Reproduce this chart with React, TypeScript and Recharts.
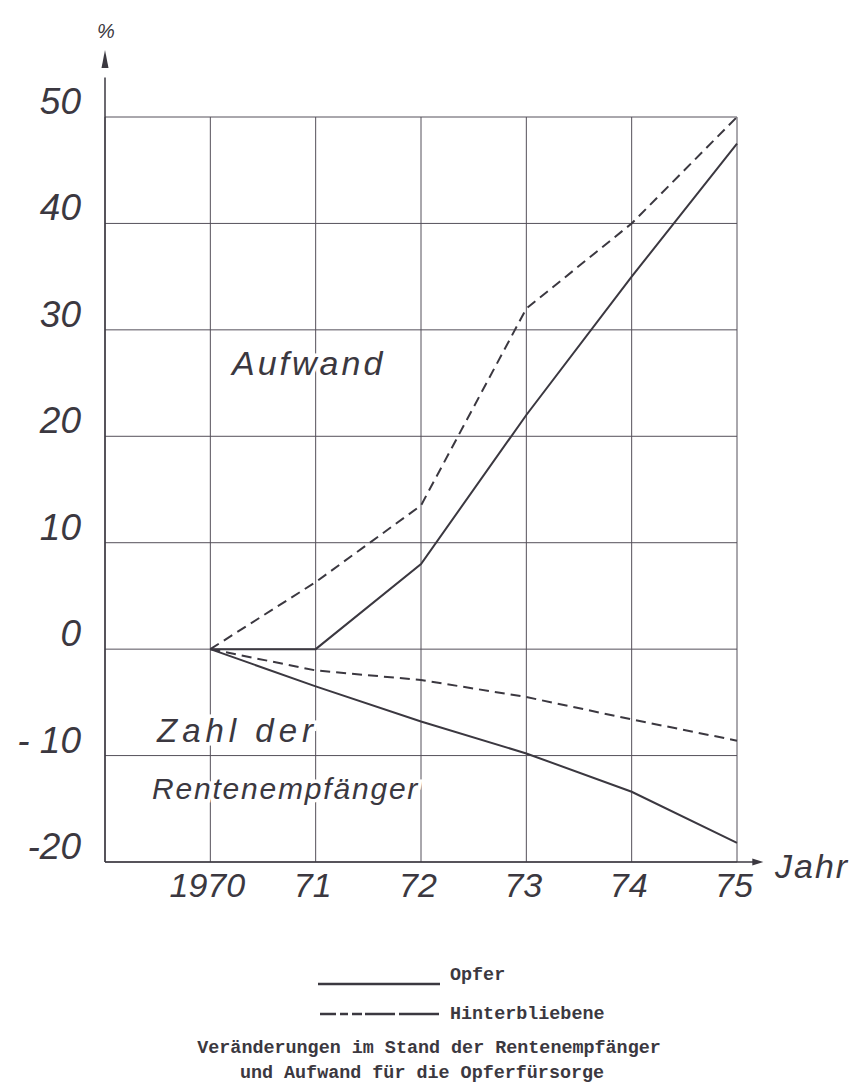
import React from "react"
import {
  LineChart,
  Line,
  XAxis,
  YAxis,
  CartesianGrid,
  ReferenceLine,
  ReferenceDot,
} from "recharts"

// values (change in % against 1970)
const years = [1970, 1971, 1972, 1973, 1974, 1975]
const xTickLabels = ["1970", "71", "72", "73", "74", "75"]
const aufwandOpfer = [0, 0, 8, 22, 35, 47.5]
const aufwandHinterbliebene = [0, 6.3, 13.5, 32, 40, 50]
const zahlOpfer = [0, -3.5, -6.8, -9.8, -13.4, -18.2]
const zahlHinterbliebene = [0, -2, -2.9, -4.5, -6.6, -8.6]
const yTicks = [-20, -10, 0, 10, 20, 30, 40, 50]
const yTickLabels = ["-20", "- 10", "0", "10", "20", "30", "40", "50"]

const data = years.map((year, i) => ({
  year,
  aufwandOpfer: aufwandOpfer[i],
  aufwandHinterbliebene: aufwandHinterbliebene[i],
  zahlOpfer: zahlOpfer[i],
  zahlHinterbliebene: zahlHinterbliebene[i],
}))

const ink = "#3b3840"
const grid = "#55505a"
const hand = "'Liberation Sans', Arial, sans-serif"
const typewriter = "'Liberation Mono', 'DejaVu Sans Mono', monospace"
const dash = "10 6"

const XTick = ({ x, y, payload }: any) => (
  <text
    x={x - 3}
    y={y + 35}
    textAnchor="middle"
    fontSize={34}
    fontStyle="italic"
    fontFamily={hand}
    fill={ink}
  >
    {xTickLabels[years.indexOf(payload.value)]}
  </text>
)

const YTick = ({ x, y, payload }: any) => (
  <text
    x={x - 24}
    y={y - 3}
    textAnchor="end"
    fontSize={37}
    fontStyle="italic"
    fontFamily={hand}
    fill={ink}
  >
    {yTickLabels[yTicks.indexOf(payload.value)]}
  </text>
)

const arrowUp = (p: any) => (
  <path d={`M${p.cx},${p.cy} L${p.cx - 3.5},${p.cy + 18} L${p.cx + 3.5},${p.cy + 18} Z`} fill={ink} />
)
const arrowRight = (p: any) => (
  <path d={`M${p.cx},${p.cy} L${p.cx - 11},${p.cy - 3.5} L${p.cx - 11},${p.cy + 3.5} Z`} fill={ink} />
)

const halo = { stroke: "#fff", strokeWidth: 7, paintOrder: "stroke" as const }

export default function App() {
  return (
    <div style={{ position: "absolute", left: 0, top: 0, width: 852, height: 1089, background: "#fff" }}>
      <LineChart
        width={852}
        height={1089}
        data={data}
        margin={{ top: 117, right: 115, bottom: 187, left: 0 }}
      >
        <CartesianGrid stroke={grid} strokeWidth={1} />
        <XAxis
          dataKey="year"
          type="number"
          domain={[1969, 1975]}
          ticks={years}
          height={40}
          axisLine={false}
          tickLine={false}
          tickSize={0}
          tickMargin={0}
          tick={<XTick />}
        />
        <YAxis
          type="number"
          domain={[-20, 50]}
          ticks={yTicks}
          width={105}
          axisLine={{ stroke: ink, strokeWidth: 1.5 }}
          tickLine={false}
          tickSize={0}
          tickMargin={0}
          tick={<YTick />}
        />
        {/* axis extensions with arrows */}
        <ReferenceLine
          segment={[{ x: 1969, y: 50 }, { x: 1969, y: 53.7 }]}
          stroke={ink}
          strokeWidth={1.5}
          ifOverflow="visible"
        />
        <ReferenceDot x={1969} y={56.3} r={0} ifOverflow="visible" shape={arrowUp} />
        <ReferenceLine
          segment={[{ x: 1969, y: -20 }, { x: 1975.2, y: -20 }]}
          stroke={ink}
          strokeWidth={1.5}
          ifOverflow="visible"
        />
        <ReferenceDot x={1975.25} y={-20} r={0} ifOverflow="visible" shape={arrowRight} />

        <Line type="linear" dataKey="aufwandOpfer" stroke={ink} strokeWidth={2} dot={false} isAnimationActive={false} />
        <Line type="linear" dataKey="aufwandHinterbliebene" stroke={ink} strokeWidth={2} strokeDasharray={dash} dot={false} isAnimationActive={false} />
        <Line type="linear" dataKey="zahlOpfer" stroke={ink} strokeWidth={2} dot={false} isAnimationActive={false} />
        <Line type="linear" dataKey="zahlHinterbliebene" stroke={ink} strokeWidth={2} strokeDasharray={dash} dot={false} isAnimationActive={false} />
      </LineChart>

      {/* annotations, legend and caption */}
      <svg width={852} height={1089} style={{ position: "absolute", left: 0, top: 0, pointerEvents: "none" }}>
        <g fontFamily={hand} fontStyle="italic" fill={ink}>
          <text x={97} y={38} fontSize={20}>%</text>
          <text x={232} y={375} fontSize={34} letterSpacing={3} {...halo}>Aufwand</text>
          <text x={157} y={742} fontSize={33} letterSpacing={5} {...halo}>Zahl der</text>
          <text x={152} y={799} fontSize={30} letterSpacing={1.8} {...halo}>Rentenempfänger</text>
          <text x={775} y={878} fontSize={34} letterSpacing={2}>Jahr</text>
        </g>
        <g fontFamily={typewriter} fontWeight="bold" fontSize={18.4} fill={ink}>
          <line x1={318} y1={984} x2={440} y2={984} stroke={ink} strokeWidth={2.5} />
          <text x={450} y={980}>Opfer</text>
          <line x1={320} y1={1014} x2={441} y2={1014} stroke={ink} strokeWidth={2.5} strokeDasharray="16 4 8 4 10 3 30 4 40 3" />
          <text x={450} y={1019}>Hinterbliebene</text>
          <text x={429} y={1053} textAnchor="middle">Veränderungen im Stand der Rentenempfänger</text>
          <text x={422} y={1078} textAnchor="middle">und Aufwand für die Opferfürsorge</text>
        </g>
      </svg>
    </div>
  )
}
